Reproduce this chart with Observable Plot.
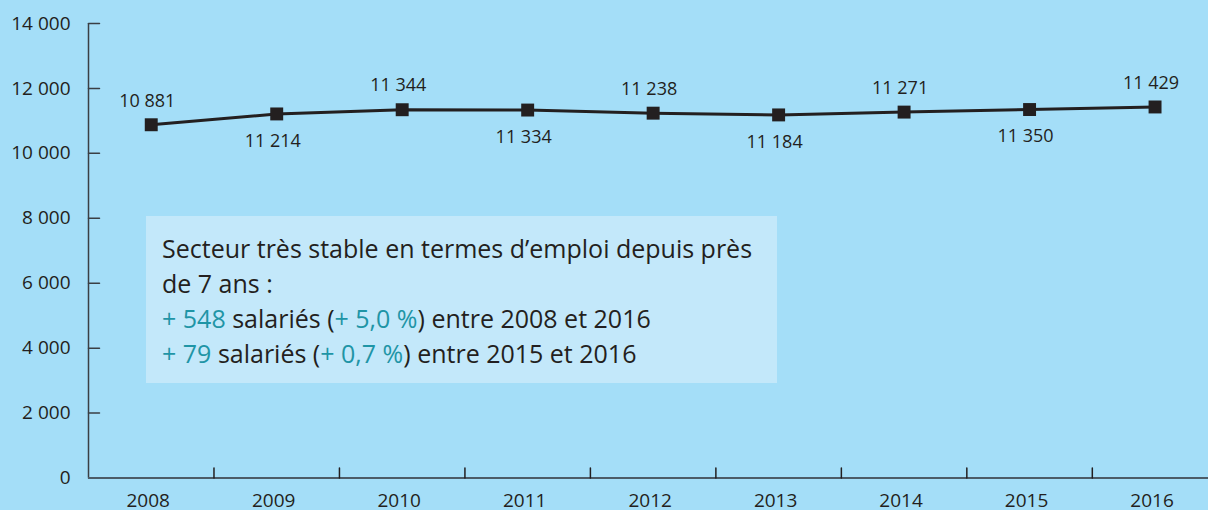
<!DOCTYPE html>
<html>
<head>
<meta charset="utf-8">
<script src="https://cdn.jsdelivr.net/npm/d3@7"></script>
<script src="https://cdn.jsdelivr.net/npm/@observablehq/plot@0.6"></script>
<style>
  html, body { margin: 0; padding: 0; background: #a4def8; }
  #wrap { position: relative; width: 1208px; height: 510px; background: #a4def8; overflow: hidden; font-family: "Open Sans", sans-serif; }
  #note { position: absolute; left: 146px; top: 216px; width: 631px; height: 167px; box-sizing: border-box;
          background: #c3e8fa; padding: 15px 0 0 16px; font-size: 25px; line-height: 35px; color: #231f20; }
  #note .acc { color: #1f95a6; }
</style>
</head>
<body>
<div id="wrap"></div>
<script>
// ---- data ----
const years = [2008, 2009, 2010, 2011, 2012, 2013, 2014, 2015, 2016];
const salaries = [10881, 11214, 11344, 11334, 11238, 11184, 11271, 11350, 11429];
const labelSide = ["above", "below", "above", "below", "above", "below", "above", "below", "above"];
const yTicks = [0, 2000, 4000, 6000, 8000, 10000, 12000, 14000];
const xDomain = [2007.5, 2016.426];
const yDomain = [0, 14000];
const noteLines = [
  [{t: "Secteur très stable en termes d’emploi depuis près", a: false}],
  [{t: "de 7 ans :", a: false}],
  [{t: "+ 548", a: true}, {t: " salariés (", a: false}, {t: "+ 5,0 %", a: true}, {t: ") entre 2008 et 2016", a: false}],
  [{t: "+ 79", a: true}, {t: " salariés (", a: false}, {t: "+ 0,7 %", a: true}, {t: ") entre 2015 et 2016", a: false}]
];

const fmt = d => d3.format(",")(d).replace(/,/g, " ");
const data = years.map((y, i) => ({year: y, value: salaries[i], side: labelSide[i]}));
const boundaries = years.slice(0, -1).map(y => y + 0.5);
const ink = "#231f20";
const tickShape = {draw(ctx, l) { ctx.moveTo(0, 0); ctx.lineTo(0, -l); }};

const chart = Plot.plot({
  width: 1208,
  height: 510,
  marginLeft: 88,
  marginRight: 0,
  marginTop: 23,
  marginBottom: 32.5,
  style: {background: "transparent", fontFamily: "'Open Sans', sans-serif", color: ink},
  x: {type: "linear", domain: xDomain, label: null},
  y: {domain: yDomain, label: null},
  marks: [
    Plot.axisY(yTicks, {tickSize: 0, tickPadding: 18, tickFormat: fmt, fontSize: 19, fill: ink, label: null}),
    Plot.axisX(years, {tickSize: 0, tickPadding: 15, tickFormat: d => String(d), fontSize: 19, fill: ink, dx: -3, label: null}),
    Plot.ruleX([xDomain[0]], {y1: yDomain[0], y2: yDomain[1], stroke: "#3a3f44", strokeWidth: 1.5}),
    Plot.vector(yTicks, {x: xDomain[0], y: d => d, length: 11, rotate: 90, anchor: "start", stroke: "#3a3f44", strokeWidth: 1.5, shape: tickShape}),
    Plot.ruleY([yDomain[0]], {stroke: "#4c5c68", strokeWidth: 2}),
    Plot.vector(boundaries, {x: d => d, y: yDomain[0], length: 10, rotate: 0, anchor: "start", stroke: ink, strokeWidth: 1.5, shape: tickShape}),
    Plot.line(data, {x: "year", y: "value", stroke: ink, strokeWidth: 3}),
    Plot.dot(data, {x: "year", y: "value", symbol: "square", r: 7.3, fill: ink, stroke: "none"}),
    Plot.text(data.filter(d => d.side === "above"), {x: "year", y: "value", text: d => fmt(d.value), dy: -24, dx: -4, fontSize: 18, fill: ink}),
    Plot.text(data.filter(d => d.side === "below"), {x: "year", y: "value", text: d => fmt(d.value), dy: 27, dx: -4, fontSize: 18, fill: ink})
  ]
});

const wrap = document.getElementById("wrap");
wrap.appendChild(chart);
chart.style.position = "absolute";
chart.style.left = "0";
chart.style.top = "0";

const note = document.createElement("div");
note.id = "note";
noteLines.forEach(line => {
  const div = document.createElement("div");
  line.forEach(seg => {
    const s = document.createElement("span");
    s.textContent = seg.t;
    if (seg.a) s.className = "acc";
    div.appendChild(s);
  });
  note.appendChild(div);
});
wrap.appendChild(note);
</script>
</body>
</html>
